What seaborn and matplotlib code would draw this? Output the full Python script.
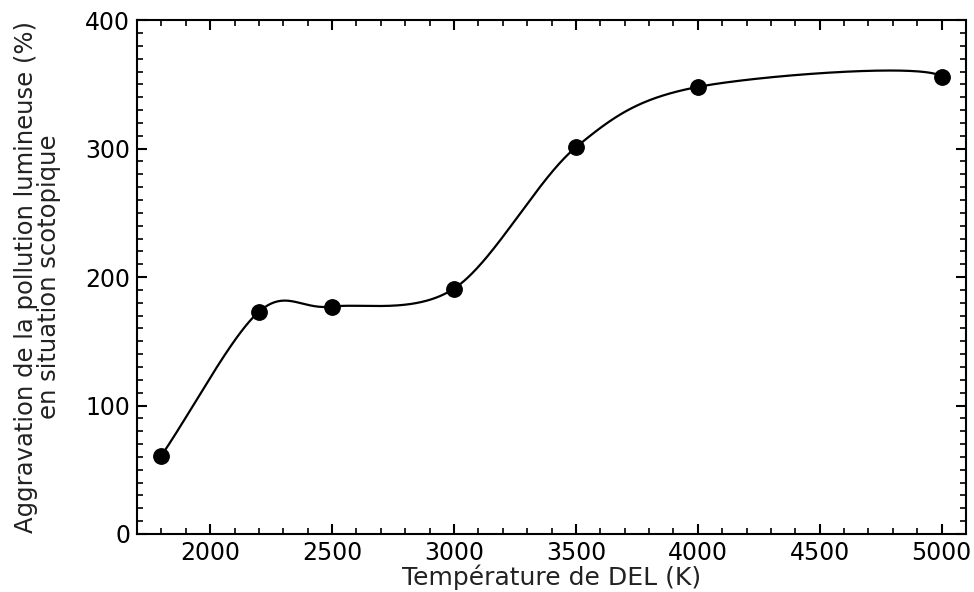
import numpy as np
import pandas as pd
import matplotlib
matplotlib.use("Agg")
import matplotlib.pyplot as plt
import seaborn as sns
from matplotlib.ticker import MultipleLocator

temperature = [1800, 2200, 2500, 3000, 3500, 4000, 5000]
aggravation = [61, 173, 177, 191, 301, 348, 356]
xlabel = "Température de DEL (K)"
ylabel = "Aggravation de la pollution lumineuse (%)\nen situation scotopique"


def smooth_bezier(xv, yv, n=120, tension=0.16, end_a=0.468, end_b=-1.67):
    """Catmull-Rom style cubic Bezier through the points (parametric)."""
    P = np.column_stack([xv, yv]).astype(float)
    m = len(P)
    T = np.zeros_like(P)
    for i in range(1, m - 1):
        T[i] = tension * (P[i + 1] - P[i - 1])
    T[0] = (P[1] - P[0]) / 3
    T[-1] = end_a * (P[-1] - P[-2]) + end_b * T[-2]
    t = np.linspace(0, 1, n)[:, None]
    segs = []
    for i in range(m - 1):
        p0, p3 = P[i], P[i + 1]
        c1, c2 = p0 + T[i], p3 - T[i + 1]
        seg = ((1 - t) ** 3) * p0 + 3 * ((1 - t) ** 2) * t * c1 + 3 * (1 - t) * t ** 2 * c2 + t ** 3 * p3
        segs.append(seg if i == 0 else seg[1:])
    return np.vstack(segs)


sns.set_style("white")
plt.rcParams["font.family"] = ["DejaVu Sans"]

fig = plt.figure(figsize=(9.74, 5.92), dpi=100)
ax = fig.add_axes([0.1407, 0.098, 0.8511, 0.868])

c = smooth_bezier(temperature, aggravation)
curve = pd.DataFrame({"x": c[:, 0], "y": c[:, 1]})
pts = pd.DataFrame({"x": temperature, "y": aggravation})

sns.lineplot(data=curve, x="x", y="y", ax=ax, color="black", linewidth=1.6,
             sort=False, estimator=None)
sns.scatterplot(data=pts, x="x", y="y", ax=ax, color="black", s=125,
                edgecolor="black", zorder=3)

ax.set_xlim(1700, 5100)
ax.set_ylim(0, 400)
ax.xaxis.set_major_locator(MultipleLocator(500))
ax.xaxis.set_minor_locator(MultipleLocator(100))
ax.yaxis.set_major_locator(MultipleLocator(100))
ax.yaxis.set_minor_locator(MultipleLocator(10))
ax.tick_params(which="both", direction="in", top=True, right=True,
               bottom=True, left=True, colors="black", labelsize=17)
ax.tick_params(which="major", length=7, width=1.5, pad=5)
ax.tick_params(which="minor", length=4, width=1.2)
for s in ax.spines.values():
    s.set_color("black")
    s.set_linewidth(1.5)

ax.set_xlabel(xlabel, fontsize=18, labelpad=0, color="#222222")
ax.set_ylabel(ylabel, fontsize=17.5, labelpad=17, linespacing=0.95, color="#222222")

fig.savefig("out.png", dpi=100, facecolor="white")
